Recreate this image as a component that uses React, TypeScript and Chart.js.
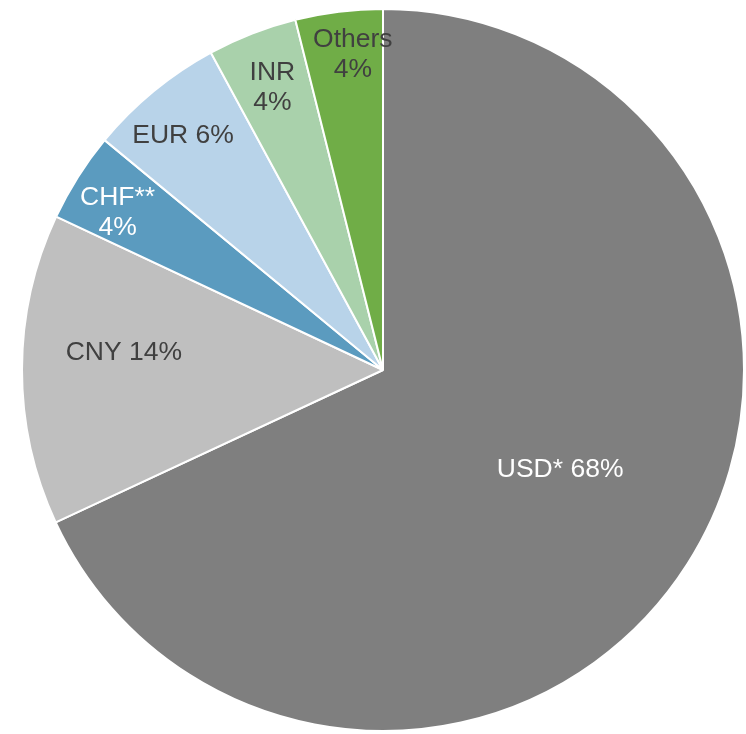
import React, { useEffect, useRef } from "react";
import { Chart, registerables } from "chart.js";

Chart.register(...registerables);

const categories = ["USD*", "CNY", "CHF**", "EUR", "INR", "Others"];
const shares = [68.0, 13.9, 4.0, 6.1, 4.0, 3.9];
const labelLines = [["USD* 68%"], ["CNY 14%"], ["CHF**", "4%"], ["EUR 6%"], ["INR", "4%"], ["Others", "4%"]];
const sliceColors = ["#7F7F7F", "#BFBFBF", "#5B9BBF", "#B8D3E9", "#A9D1AB", "#70AD47"];
const labelColors = ["#FFFFFF", "#404040", "#FFFFFF", "#404040", "#404040", "#404040"];
const labelRadiusFrac = [0.56, 0.72, 0.858, 0.857, 0.845, 0.883];
const labelAngleShiftDeg = [-3.7, 4.2, -1.3, -0.8, 0, 1.6];

const labelPlugin = {
  id: "sliceLabels",
  afterDatasetsDraw(chart: any) {
    const ctx = chart.ctx;
    const meta = chart.getDatasetMeta(0);
    ctx.save();
    ctx.font = "26.5px 'Liberation Sans', Arial, sans-serif";
    ctx.textAlign = "center";
    ctx.textBaseline = "middle";
    meta.data.forEach((arc: any, i: number) => {
      const p = arc.getProps(["x", "y", "startAngle", "endAngle", "outerRadius"], true);
      const mid = (p.startAngle + p.endAngle) / 2 + (labelAngleShiftDeg[i] * Math.PI) / 180;
      const r = p.outerRadius * labelRadiusFrac[i];
      const cx = p.x + Math.cos(mid) * r;
      const cy = p.y + Math.sin(mid) * r + 2;
      const lines = labelLines[i];
      const lh = 30;
      ctx.fillStyle = labelColors[i];
      lines.forEach((t, j) => {
        ctx.fillText(t, cx, cy + (j - (lines.length - 1) / 2) * lh);
      });
    });
    ctx.restore();
  },
};

export default function App() {
  const ref = useRef<HTMLCanvasElement | null>(null);
  useEffect(() => {
    if (!ref.current) return;
    const chart = new Chart(ref.current, {
      type: "pie",
      data: {
        labels: categories,
        datasets: [
          {
            data: shares,
            backgroundColor: sliceColors,
            borderColor: "#FFFFFF",
            borderWidth: 2,
          },
        ],
      },
      options: {
        responsive: false,
        devicePixelRatio: 1,
        animation: false,
        layout: { padding: { left: 21, right: 1, top: 8, bottom: 2 } },
        plugins: { legend: { display: false }, tooltip: { enabled: false } },
      },
      plugins: [labelPlugin],
    });
    return () => chart.destroy();
  }, []);
  return (
    <canvas
      ref={ref}
      width={746}
      height={734}
      style={{ position: "absolute", left: 0, top: 0, display: "block" }}
    />
  );
}
